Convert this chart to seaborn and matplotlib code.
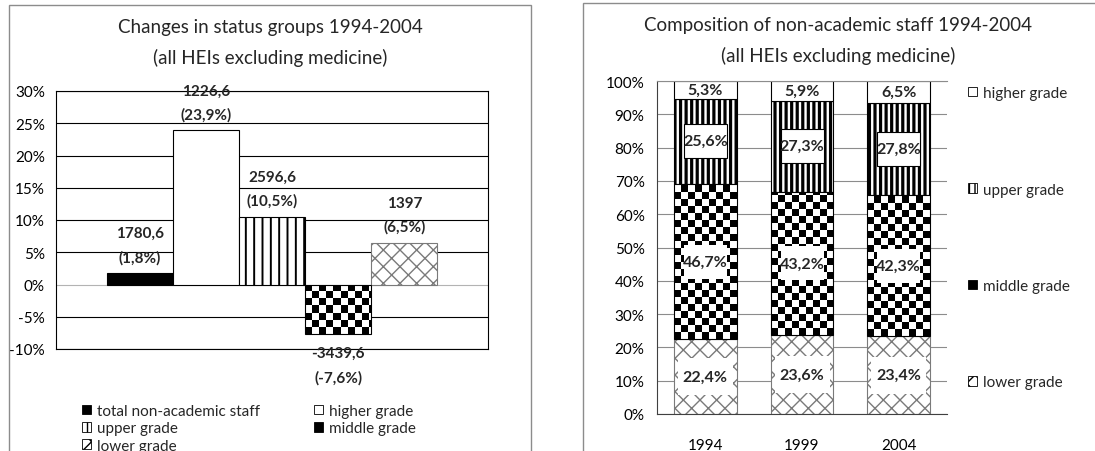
import numpy as np
import pandas as pd
import matplotlib
matplotlib.use("Agg")
import matplotlib.pyplot as plt
import seaborn as sns
from matplotlib.patches import Rectangle, Patch
from matplotlib.colors import ListedColormap
from matplotlib.path import Path

# ---------------- data ----------------
# left chart: changes in status groups 1994-2004
groups = ["total non-academic staff", "higher grade", "upper grade", "middle grade", "lower grade"]
pct_change = [1.8, 23.9, 10.5, -7.6, 6.5]
abs_change = [1780.6, 1226.6, 2596.6, -3439.6, 1397.0]
left_ticks = [-10, -5, 0, 5, 10, 15, 20, 25, 30]

# right chart: composition of non-academic staff
years = ["1994", "1999", "2004"]
lower_share = [22.4, 23.6, 23.4]
middle_share = [46.7, 43.2, 42.3]
upper_share = [25.6, 27.3, 27.8]
higher_share = [5.3, 5.9, 6.5]
right_ticks = [0, 10, 20, 30, 40, 50, 60, 70, 80, 90, 100]

# ---------------- style ----------------
sns.set_theme(style="white")
plt.rcParams["font.family"] = ["Lato", "DejaVu Sans"]
W, H = 1095, 452
fig = plt.figure(figsize=(W / 100, H / 100), dpi=100)


def rect(l, r, t, b):
    return [l / W, 1 - b / H, (r - l) / W, (b - t) / H]


def fmt_num(v):
    return f"{v:g}".replace(".", ",")


def fmt_pct(v):
    return f"{v:.1f}%".replace(".", ",")


def set_hlw(p, lw):
    if hasattr(p, "set_hatch_linewidth"):
        p.set_hatch_linewidth(lw)


def add_checker(ax, patch, cell=7, sq=7, z=2.5):
    x0, y0 = patch.get_x(), patch.get_y()
    x1, y1 = x0 + patch.get_width(), y0 + patch.get_height()
    ylo, yhi = min(y0, y1), max(y0, y1)
    (px0, py0), (px1, py1) = ax.transData.transform([(x0, ylo), (x1, yhi)])
    w = max(int(round(px1 - px0)), 1)
    h = max(int(round(py1 - py0)), 1)
    yy, xx = np.mgrid[0:h, 0:w]
    c, r = xx // cell, yy // cell
    lx, ly = xx % cell, yy % cell
    black = (((c + r) % 2) == 0) & (lx < sq) & (ly < sq)
    im = ax.imshow(black.astype(float), cmap=ListedColormap(["white", "black"]), vmin=0, vmax=1,
                   extent=(x0, x1, ylo, yhi), origin="lower", aspect="auto",
                   interpolation="nearest", zorder=z)
    im.set_clip_path(patch)
    patch.set_facecolor("none")
    patch.set_zorder(z + 0.1)


def fixed_box(wpx, hpx):
    def style(x0, y0, width, height, mutation_size):
        cx, cy = x0 + width / 2, y0 + height / 2
        verts = [(cx - wpx / 2, cy - hpx / 2), (cx + wpx / 2, cy - hpx / 2),
                 (cx + wpx / 2, cy + hpx / 2), (cx - wpx / 2, cy + hpx / 2),
                 (cx - wpx / 2, cy - hpx / 2)]
        codes = [Path.MOVETO, Path.LINETO, Path.LINETO, Path.LINETO, Path.CLOSEPOLY]
        return Path(verts, codes)
    return style


# outer chart-area frames
fig.add_artist(Rectangle((9 / W, -0.05), (531 - 9) / W, 1.05 - 6 / H, transform=fig.transFigure,
                         fill=False, edgecolor="#8c8c8c", lw=1.0))
fig.add_artist(Rectangle((583 / W, -0.05), 0.5, 1.05 - 4 / H, transform=fig.transFigure,
                         fill=False, edgecolor="#8c8c8c", lw=1.0))

# ---------------- left chart ----------------
axL = fig.add_axes(rect(56, 488, 92, 350))
dfL = pd.DataFrame({"cat": ["all"] * len(groups), "group": groups, "value": pct_change})
sns.barplot(data=dfL, x="cat", y="value", hue="group", hue_order=groups,
            palette=["black", "white", "white", "white", "white"], saturation=1,
            width=0.8, errorbar=None, edgecolor="black", linewidth=0.8, legend=False,
            ax=axL, zorder=2)
half = 0.4 * 432 / 331
axL.set_xlim(-half, half)
axL.set_ylim(-10, 30)
axL.set_yticks(left_ticks)
axL.set_yticklabels([f"{t}%" for t in left_ticks])
axL.set_xticks([])
axL.set_xlabel("")
axL.set_ylabel("")
axL.tick_params(axis="y", length=0, pad=8, labelsize=11, colors="black")
for sp in axL.spines.values():
    sp.set_visible(True)
    sp.set_color("black")
    sp.set_linewidth(0.8)
axL.grid(axis="y", color="black", lw=0.8, zorder=0)
axL.set_axisbelow(True)
for t, gl in zip(left_ticks, axL.yaxis.get_gridlines()):
    if t == 0:
        gl.set_color("#b3b3b3")

barsL = list(axL.patches)[:len(groups)]
# styles: total black, higher white, upper vertical lines, middle checker, lower diagonal cross
barsL[2].set_hatch("||")
set_hlw(barsL[2], 1.4)
barsL[4].set_hatch("xx")
barsL[4].set_edgecolor("#7a7a7a")
set_hlw(barsL[4], 1.0)
add_checker(axL, barsL[3], cell=7, sq=7)
axL.set_xlim(-half, half)
axL.set_ylim(-10, 30)

for p, a, v in zip(barsL, abs_change, pct_change):
    xc = p.get_x() + p.get_width() / 2
    if v >= 0:
        off1, off2 = 40, 16
    else:
        off1, off2 = -19, -44
    axL.annotate(fmt_num(a), (xc, v), xytext=(0, off1 * 0.72), textcoords="offset points",
                 ha="center", va="center", fontsize=11, fontweight="bold", annotation_clip=False, zorder=5)
    axL.annotate(f"({fmt_pct(v)})", (xc, v), xytext=(0, off2 * 0.72), textcoords="offset points",
                 ha="center", va="center", fontsize=11, fontweight="bold", annotation_clip=False, zorder=5)

fig.text(270 / W, 1 - 27 / H, "Changes in status groups 1994-2004", ha="center", va="center", fontsize=13.5)
fig.text(270 / W, 1 - 58 / H, "(all HEIs excluding medicine)", ha="center", va="center", fontsize=13.5)

# left legend (row-wise order in 2 columns)
hL = [Patch(facecolor="black", edgecolor="black", lw=0.6),
      Patch(facecolor="white", edgecolor="black", lw=0.6),
      Patch(facecolor="white", edgecolor="black", hatch="||", lw=0.6),
      Patch(facecolor="black", edgecolor="black", lw=0.6),
      Patch(facecolor="white", edgecolor="black", hatch="xx", lw=0.6)]
order = [0, 2, 4, 1, 3]
fig.legend([hL[i] for i in order], [groups[i] for i in order], ncol=2, loc="upper left",
           bbox_to_anchor=(82 / W, 1 - 405 / H), frameon=False, fontsize=11,
           handlelength=0.6, handleheight=0.6, handletextpad=0.4, labelspacing=0.22,
           columnspacing=3.5, borderpad=0, borderaxespad=0)

# ---------------- right chart ----------------
axR = fig.add_axes(rect(657, 947, 82, 415))
layers = [("lower grade", lower_share), ("middle grade", middle_share),
          ("upper grade", upper_share), ("higher grade", higher_share)]
bottom = np.zeros(len(years))
layer_patches = {}
for name, vals in layers:
    dfR = pd.DataFrame({"year": years, "share": vals})
    sns.barplot(data=dfR, x="year", y="share", color="white", saturation=1, width=0.65,
                errorbar=None, edgecolor="black", linewidth=0.8, bottom=bottom.copy(),
                ax=axR, zorder=2)
    layer_patches[name] = list(axR.patches)[-len(years):]
    bottom = bottom + np.array(vals)

axR.set_xlim(-0.5, len(years) - 0.5)
axR.set_ylim(0, 100)
axR.set_yticks(right_ticks)
axR.set_yticklabels([f"{t}%" for t in right_ticks])
axR.set_xlabel("")
axR.set_ylabel("")
axR.tick_params(axis="y", length=0, pad=9, labelsize=11, colors="black")
axR.tick_params(axis="x", length=0, pad=17, labelsize=11, colors="black")
axR.grid(axis="y", color="#8c8c8c", lw=0.8, zorder=0)
axR.set_axisbelow(True)
for side, sp in axR.spines.items():
    sp.set_visible(side in ("left", "bottom", "top"))
    sp.set_color("#404040" if side != "top" else "#8c8c8c")
    sp.set_linewidth(0.8)

for p in layer_patches["lower grade"]:
    p.set_hatch("xx")
    p.set_edgecolor("#7a7a7a")
    set_hlw(p, 1.0)
for p in layer_patches["upper grade"]:
    p.set_hatch("|||")
    set_hlw(p, 2.3)
for p in layer_patches["middle grade"]:
    add_checker(axR, p, cell=7, sq=7)
axR.set_xlim(-0.5, len(years) - 0.5)
axR.set_ylim(0, 100)

box_specs = {"lower grade": (55, 37, "none"), "middle grade": (43, 34, "none"),
             "upper grade": (43, 34, "black"), "higher grade": None}
for name, vals in layers:
    for p, v in zip(layer_patches[name], vals):
        xc = p.get_x() + p.get_width() / 2
        yc = p.get_y() + p.get_height() / 2
        spec = box_specs[name]
        kw = {}
        if spec is not None:
            kw["bbox"] = dict(boxstyle=fixed_box(spec[0], spec[1]), facecolor="white",
                              edgecolor=spec[2], lw=0.8)
        axR.text(xc, yc, fmt_pct(v), ha="center", va="center", fontsize=11.5,
                 fontweight="bold", zorder=6, **kw)

fig.text(838 / W, 1 - 25 / H, "Composition of non-academic staff 1994-2004", ha="center", va="center", fontsize=13.5)
fig.text(838 / W, 1 - 56 / H, "(all HEIs excluding medicine)", ha="center", va="center", fontsize=13.5)

hR = [Patch(facecolor="white", edgecolor="black", lw=0.6),
      Patch(facecolor="white", edgecolor="black", hatch="|||", lw=0.6),
      Patch(facecolor="black", edgecolor="black", lw=0.6),
      Patch(facecolor="white", edgecolor="black", hatch="xx", lw=0.6)]
fig.legend(hR, ["higher grade", "upper grade", "middle grade", "lower grade"], loc="upper left",
           bbox_to_anchor=(968 / W, 1 - 87 / H), frameon=False, fontsize=11,
           handlelength=0.6, handleheight=0.6, handletextpad=0.4, labelspacing=5.4,
           borderpad=0, borderaxespad=0)

fig.savefig("out.png", dpi=100)
